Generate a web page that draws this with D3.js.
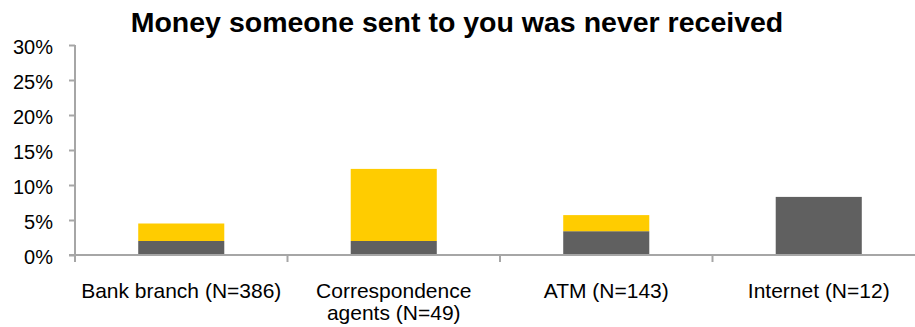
<!DOCTYPE html>
<html>
<head>
<meta charset="utf-8">
<script src="https://cdn.jsdelivr.net/npm/d3@7"></script>
<style>
  html, body { margin: 0; padding: 0; background: #fff; }
  svg { display: block; font-family: "Liberation Sans", Arial, sans-serif; }
</style>
</head>
<body>
<svg id="chart" width="915" height="327"></svg>
<script>
// Share of respondents per channel (percent)
const categories = ["Bank branch (N=386)", "Correspondence agents (N=49)", "ATM (N=143)", "Internet (N=12)"];
const categoryLines = [["Bank branch (N=386)"], ["Correspondence", "agents (N=49)"], ["ATM (N=143)"], ["Internet (N=12)"]];
const lowerValues = [2.0, 2.0, 3.4, 8.3];
const upperValues = [2.5, 10.3, 2.3, 0];
const yTicks = [0, 5, 10, 15, 20, 25, 30];
const title = "Money someone sent to you was never received";

const colors = { lower: "#606060", upper: "#FFCC00", axis: "#A6A6A6" };

const svg = d3.select("#chart");

const x = d3.scaleBand().domain(categories).range([75, 925]).paddingInner(0.595).paddingOuter(0.2975);
const y = d3.scaleLinear().domain([0, 30]).range([255, 45]);

const stackData = categories.map((c, i) => ({ cat: c, lower: lowerValues[i], upper: upperValues[i] }));
const series = d3.stack().keys(["lower", "upper"])(stackData);

// Stacked bars
svg.append("g").selectAll("g")
  .data(series)
  .join("g")
  .attr("fill", d => colors[d.key])
  .selectAll("rect")
  .data(d => d.filter(s => s[1] - s[0] > 0))
  .join("rect")
  .attr("x", d => x(d.data.cat))
  .attr("width", x.bandwidth())
  .attr("y", d => y(d[1]))
  .attr("height", d => y(d[0]) - y(d[1]));

// Y axis
const yAxis = d3.axisLeft(y).tickValues(yTicks).tickFormat(d => d + "%").tickSize(6).tickPadding(16);
const gy = svg.append("g").attr("transform", "translate(75,0)").call(yAxis);
gy.select(".domain").attr("stroke", colors.axis).attr("stroke-width", 2).attr("d", "M0,45V261");
gy.selectAll(".tick line").attr("stroke", colors.axis).attr("stroke-width", 2);
gy.selectAll(".tick text").attr("fill", "#000").attr("font-size", 20).attr("dy", "0.42em")
  .attr("font-family", "Liberation Sans, Arial, sans-serif");

// X axis: baseline with separators between categories
const gx = svg.append("g");
gx.append("line").attr("x1", 69).attr("x2", 915).attr("y1", y(0)).attr("y2", y(0))
  .attr("stroke", colors.axis).attr("stroke-width", 2);
const bounds = d3.range(categories.length + 1).map(i => 75 + i * x.step());
gx.selectAll("line.sep").data(bounds).join("line").attr("class", "sep")
  .attr("x1", d => d).attr("x2", d => d).attr("y1", y(0)).attr("y2", y(0) + 7)
  .attr("stroke", colors.axis).attr("stroke-width", 2);

// Category labels
const labels = svg.append("g").attr("font-size", 21).attr("fill", "#000").attr("text-anchor", "middle");
categories.forEach((c, i) => {
  const cx = x(c) + x.bandwidth() / 2;
  const t = labels.append("text").attr("x", cx).attr("y", 298);
  categoryLines[i].forEach((line, j) => {
    t.append("tspan").attr("x", cx).attr("dy", j === 0 ? 0 : 21.5).text(line);
  });
});

// Title
svg.append("text").attr("x", 457).attr("y", 32).attr("text-anchor", "middle")
  .attr("font-size", 28.5).attr("font-weight", "bold").attr("fill", "#000").text(title);
</script>
</body>
</html>
